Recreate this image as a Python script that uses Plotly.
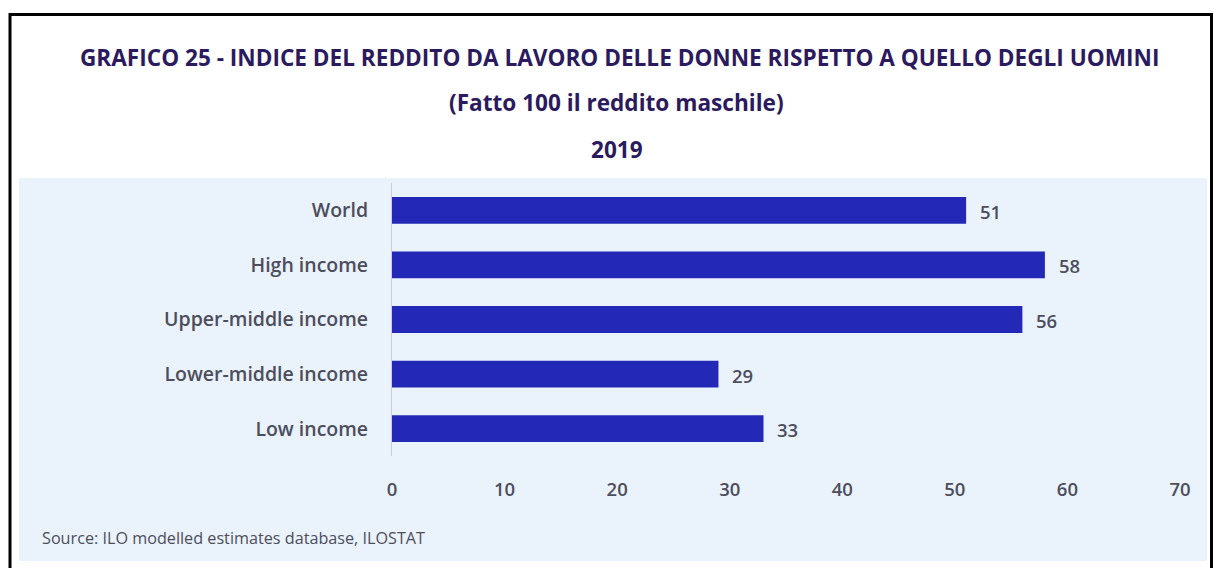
import plotly.graph_objects as go

# Income groups (top to bottom) and index of female labour income (male = 100)
categories = ["World", "High income", "Upper-middle income", "Lower-middle income", "Low income"]
values = [51, 58, 56, 29, 33]
x_ticks = [0, 10, 20, 30, 40, 50, 60, 70]

W, H = 1214, 568
L, R, T, B = 392, 34, 183, 112
pw, ph = W - L - R, H - T - B


def px_x(px):
    return (px - L) / pw


def px_y(py):
    return (H - B - py) / ph


BAR = "#2328b6"
PANEL = "#eaf3fc"
TITLE = "#2b1b5e"
TEXT = "#4d4d5c"
FONT = "Open Sans"

fig = go.Figure(
    go.Bar(
        x=values,
        y=categories,
        orientation="h",
        marker=dict(color=BAR, line=dict(width=0)),
        width=0.49,
        hoverinfo="skip",
    )
)

# Value labels just right of each bar end
for cat, v in zip(categories, values):
    fig.add_annotation(
        x=v, y=cat, text=str(v), showarrow=False,
        xanchor="left", yanchor="middle", xshift=12, yshift=-1,
        font=dict(family=FONT, size=18.5, color=TEXT, weight=600),
    )

fig.update_layout(
    width=W,
    height=H,
    margin=dict(l=L, r=R, t=T, b=B, pad=0),
    paper_bgcolor="white",
    plot_bgcolor="rgba(0,0,0,0)",
    showlegend=False,
    font=dict(family=FONT, color=TEXT),
)

fig.update_xaxes(
    range=[0, 70],
    tickvals=x_ticks,
    ticktext=[str(t) for t in x_ticks],
    showgrid=False,
    zeroline=False,
    showline=False,
    ticks="outside",
    ticklen=17,
    tickcolor="rgba(0,0,0,0)",
    tickfont=dict(family=FONT, size=18.5, color=TEXT, weight=600),
)

fig.update_yaxes(
    categoryorder="array",
    categoryarray=categories[::-1],
    range=[-0.5, 4.5],
    showgrid=False,
    zeroline=False,
    showline=True,
    linecolor="#c9ccd2",
    linewidth=1,
    ticks="outside",
    ticklen=19,
    tickcolor="rgba(0,0,0,0)",
    tickfont=dict(family=FONT, size=19.5, color=TEXT, weight=600),
)

# Light blue chart panel and outer frame
fig.add_shape(
    type="rect", xref="paper", yref="paper", layer="below",
    x0=px_x(19), x1=px_x(1207), y0=px_y(561), y1=px_y(178),
    fillcolor=PANEL, line=dict(width=0),
)
fig.add_shape(
    type="rect", xref="paper", yref="paper", layer="above",
    x0=px_x(10), x1=px_x(1211.5), y0=px_y(600), y1=px_y(14.5),
    fillcolor="rgba(0,0,0,0)", line=dict(color="black", width=3),
)

titles = [
    ("GRAFICO 25 - INDICE DEL REDDITO DA LAVORO DELLE DONNE RISPETTO A QUELLO DEGLI UOMINI", 619, 57),
    ("(Fatto 100 il reddito maschile)", 616, 103),
    ("2019", 617, 149),
]
for txt, cx, cy in titles:
    fig.add_annotation(
        text=f"<b>{txt}</b>", xref="paper", yref="paper",
        x=px_x(cx), y=px_y(cy), xanchor="center", yanchor="middle",
        showarrow=False, font=dict(family=FONT, size=22.6, color=TITLE),
    )

fig.add_annotation(
    text="Source: ILO modelled estimates database, ILOSTAT",
    xref="paper", yref="paper", x=px_x(40), y=px_y(538),
    xanchor="left", yanchor="middle", showarrow=False,
    font=dict(family=FONT, size=16.2, color=TEXT),
)

fig.write_html("out.html")
